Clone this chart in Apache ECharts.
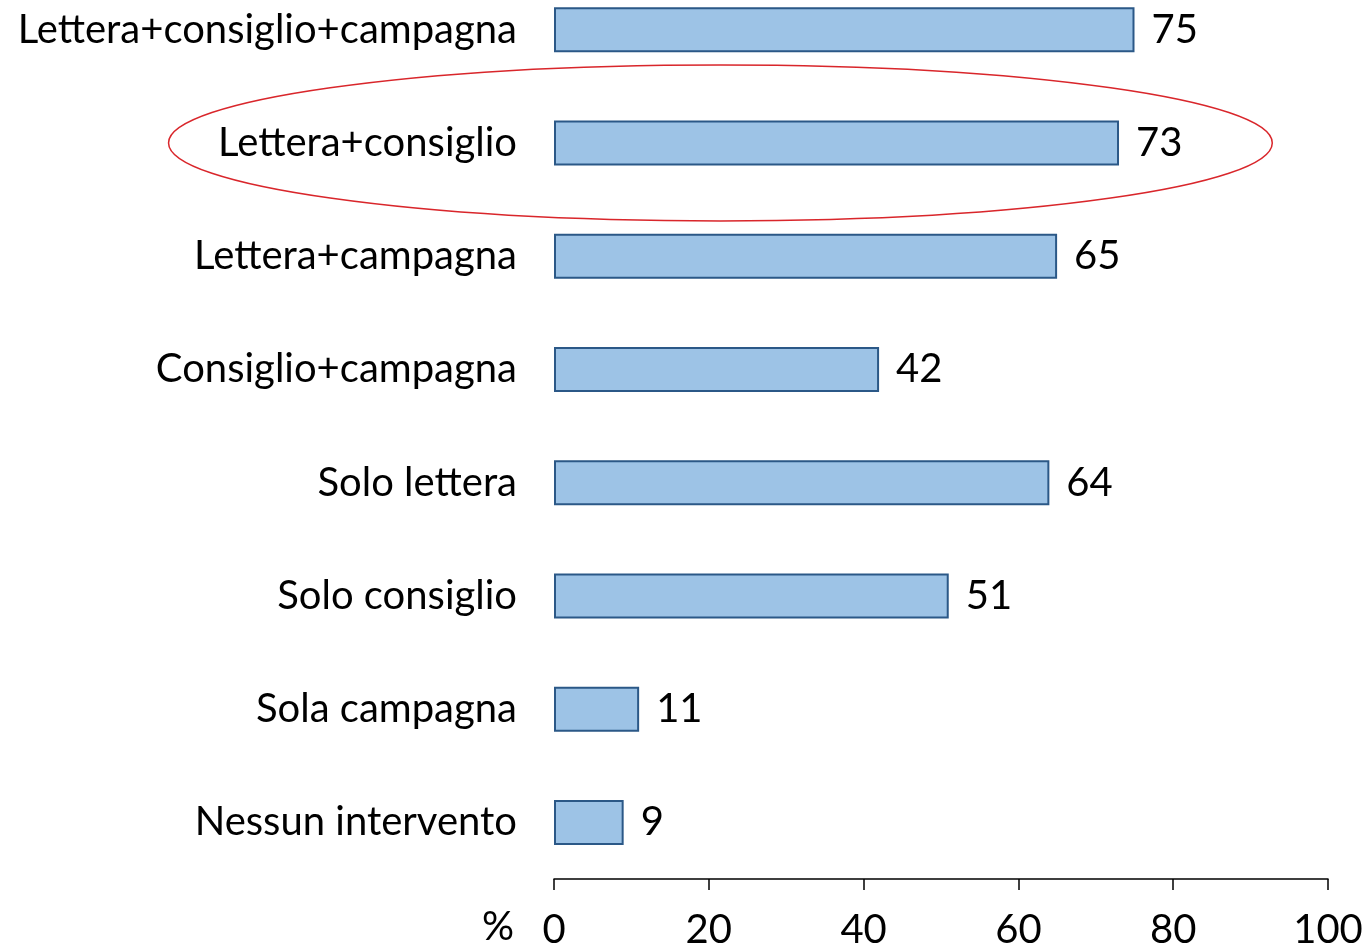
<!DOCTYPE html>
<html>
<head>
<meta charset="utf-8">
<style>
  html, body { margin: 0; padding: 0; background: #fff; }
  #chart { width: 1369px; height: 944px; }
</style>
<script src="https://cdn.jsdelivr.net/npm/echarts@6/dist/echarts.min.js"></script>
</head>
<body>
<div id="chart"></div>
<script>
// Interventions (top to bottom) and the share reached by each, in %
const categories = [
  'Lettera+consiglio+campagna',
  'Lettera+consiglio',
  'Lettera+campagna',
  'Consiglio+campagna',
  'Solo lettera',
  'Solo consiglio',
  'Sola campagna',
  'Nessun intervento'
];
const values = [75, 73, 65, 42, 64, 51, 11, 9];
const xTicks = [0, 20, 40, 60, 80, 100];
const unitLabel = '%';
const highlighted = 'Lettera+consiglio';

const FONT = 'Lato';
const FS = 40;
const chart = echarts.init(document.getElementById('chart'));

chart.setOption({
  animation: false,
  backgroundColor: '#ffffff',
  grid: { left: 554, right: 41, top: -27, height: 906, outerBoundsMode: 'none', containLabel: false },
  xAxis: {
    type: 'value',
    min: xTicks[0],
    max: xTicks[xTicks.length - 1],
    interval: 20,
    axisLine: { show: true, lineStyle: { color: '#000', width: 1.5 } },
    axisTick: { show: true, length: 11, lineStyle: { color: '#000', width: 1.5 } },
    axisLabel: { fontFamily: FONT, fontSize: FS, color: '#000', margin: 31 },
    splitLine: { show: false }
  },
  yAxis: {
    type: 'category',
    data: categories,
    inverse: true,
    axisLine: { show: false },
    axisTick: { show: false },
    axisLabel: { fontFamily: FONT, fontSize: FS, color: '#000', margin: 37 }
  },
  series: [{
    type: 'bar',
    data: values,
    barWidth: 45,
    itemStyle: { color: '#9DC3E6', borderColor: '#2B5887', borderWidth: 2 },
    label: {
      show: true, position: 'right', distance: 17,
      fontFamily: FONT, fontSize: FS, color: '#000'
    }
  }]
});

// Red ellipse around the highlighted row, and the unit beside the x axis
const cy = chart.convertToPixel({ yAxisIndex: 0 }, highlighted);
const cx = chart.convertToPixel({ xAxisIndex: 0 }, 21.5);
const x0 = chart.convertToPixel({ xAxisIndex: 0 }, 0);
const rx = chart.convertToPixel({ xAxisIndex: 0 }, 71.3) - x0;
chart.setOption({
  graphic: [{
    type: 'ellipse',
    shape: { cx: cx, cy: cy, rx: rx, ry: 78 },
    style: { fill: 'none', stroke: '#D9262B', lineWidth: 1.5 },
    z: 100
  }, {
    type: 'text',
    x: x0 - 40,
    y: 927,
    style: {
      text: unitLabel, fontFamily: FONT, fontSize: FS, fill: '#000',
      align: 'right', verticalAlign: 'middle'
    }
  }]
});
</script>
</body>
</html>
